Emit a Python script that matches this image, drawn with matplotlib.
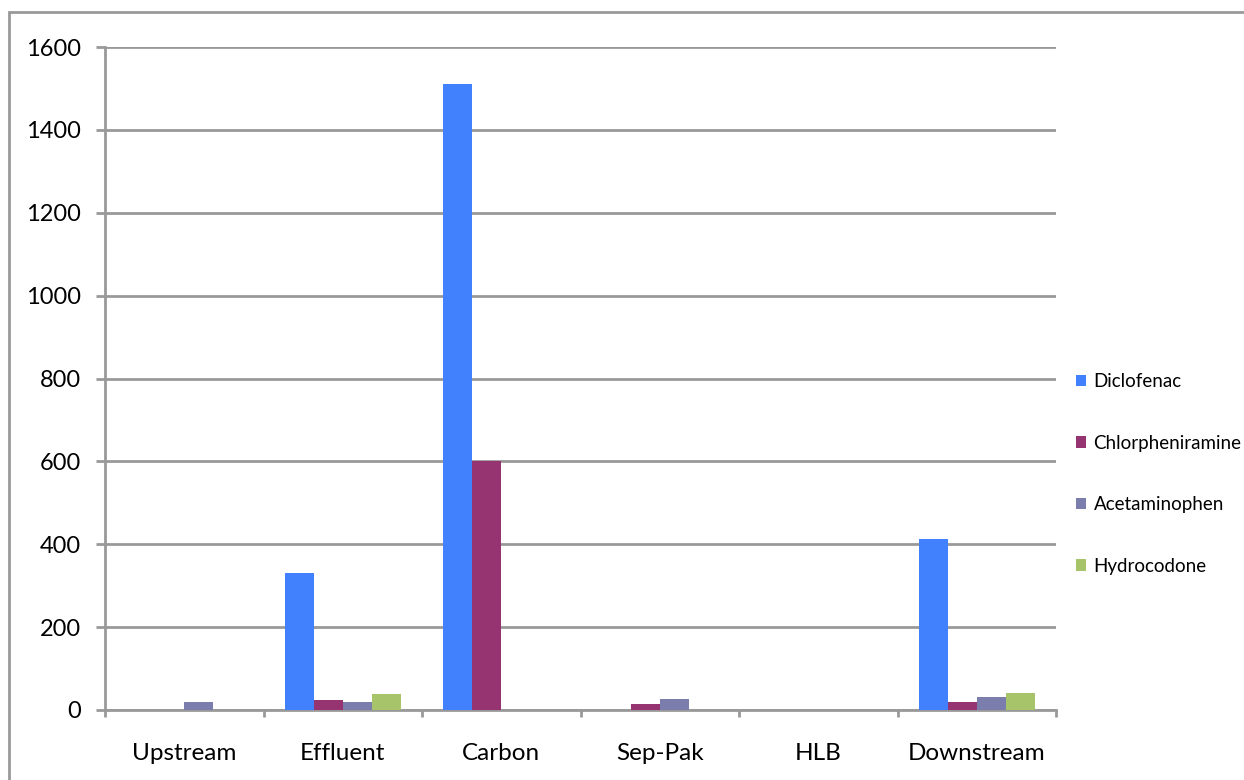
import numpy as np
import matplotlib.pyplot as plt
from matplotlib.patches import Rectangle

plt.rcParams['font.family'] = ['Lato', 'DejaVu Sans']

# sampling sites and measured amounts
sites = ['Upstream', 'Effluent', 'Carbon', 'Sep-Pak', 'HLB', 'Downstream']
diclofenac = [0, 330, 1510, 0, 0, 413]
chlorpheniramine = [0, 24, 600, 15, 0, 20]
acetaminophen = [19, 20, 0, 27, 0, 32]
hydrocodone = [0, 39, 0, 0, 0, 41]

series = [('Diclofenac', diclofenac, '#4181fd'),
          ('Chlorpheniramine', chlorpheniramine, '#953470'),
          ('Acetaminophen', acetaminophen, '#7b7dad'),
          ('Hydrocodone', hydrocodone, '#a8c46a')]

fig = plt.figure(figsize=(12.44, 7.8), dpi=100)
ax = fig.add_axes([105/1244, 70/780, 951/1244, 663/780])

# outer chart frame
fig.patches.append(Rectangle((9/1244, -0.05), 1.1, 1 - 12/780 + 0.05,
                             transform=fig.transFigure, fill=False,
                             edgecolor='#999999', linewidth=2))

x = np.arange(len(sites))
bw = 0.183
for i, (name, vals, col) in enumerate(series):
    ax.bar(x + (i - 1.5) * bw, vals, bw, color=col, label=name, zorder=3)

ax.set_xlim(-0.5, len(sites) - 0.5)
ax.set_ylim(0, 1600)
ax.set_yticks(range(0, 1601, 200))
ax.set_xticks(x)
ax.set_xticklabels(sites, fontsize=17.5)
ax.tick_params(axis='x', length=0, pad=23.5)
ax.set_xticks(np.arange(-0.5, len(sites)), minor=True)
ax.tick_params(axis='x', which='minor', length=5, width=2, color='#999999')
ax.tick_params(axis='y', labelsize=17, length=6.5, width=2, color='#999999', pad=11)
ax.yaxis.grid(True, color='#999999', linewidth=2, zorder=0)
for s in ['top', 'right']:
    ax.spines[s].set_visible(False)
for s in ['left', 'bottom']:
    ax.spines[s].set_color('#999999')
    ax.spines[s].set_linewidth(2)

ax.legend(loc='center left', bbox_to_anchor=(1.003, 0.356), frameon=False,
          fontsize=13.5, handlelength=0.55, handleheight=0.55, handletextpad=0.4,
          labelspacing=2.37, borderaxespad=0.5)

fig.savefig('out.png', dpi=100)
